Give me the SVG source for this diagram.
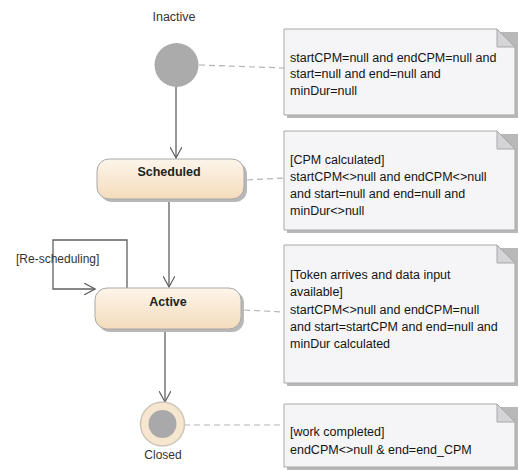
<svg xmlns="http://www.w3.org/2000/svg" width="519" height="470" viewBox="0 0 519 470">
<defs>
<linearGradient id="stateGrad" x1="0" y1="0" x2="0" y2="1">
<stop offset="0" stop-color="#fdf5ea"/>
<stop offset="1" stop-color="#f4dcbc"/>
</linearGradient>
<marker id="arrow" viewBox="0 0 12 12" refX="11" refY="6" markerWidth="12" markerHeight="12" markerUnits="userSpaceOnUse" orient="auto">
<path d="M0,0 L11,6 L0,12" fill="none" stroke="#606060" stroke-width="1.2"/>
</marker>
</defs>
<style>
text{font-family:"Liberation Sans",Arial,sans-serif;}
.lbl{font-size:12px;fill:#333;}
.state{fill:url(#stateGrad);stroke:#a8a8a8;stroke-width:1;}
.shadow{fill:#b8b8b8;}
.sname{font-size:12.5px;font-weight:bold;fill:#222;text-anchor:middle;}
.note{fill:#f5f5f7;stroke:#a8a8a8;stroke-width:1;}
.fold{fill:#d4d4d6;stroke:#a8a8a8;stroke-width:1;}
.ntext{font-size:12.5px;fill:#141414;}
.edge{fill:none;stroke:#606060;stroke-width:1.3;}
.dash{fill:none;stroke:#b4b4b4;stroke-width:1.2;stroke-dasharray:6,4;}
</style>

<g id="connectors">
<line class="dash" x1="199" y1="65" x2="284" y2="68"/>
<line class="dash" x1="247" y1="180" x2="284" y2="178"/>
<line class="dash" x1="244" y1="310" x2="284" y2="312"/>
<line class="dash" x1="184" y1="425" x2="284" y2="425"/>
<line class="edge" x1="176" y1="87" x2="176" y2="158" marker-end="url(#arrow)"/>
<line class="edge" x1="169" y1="200" x2="169" y2="287" marker-end="url(#arrow)"/>
<polyline class="edge" points="127,288 127,240 53,240 53,289 95,289" marker-end="url(#arrow)"/>
<line class="edge" x1="165" y1="331" x2="165" y2="402" marker-end="url(#arrow)"/>
<text class="lbl" x="16" y="263">[Re-scheduling]</text>
</g>

<g id="inactive">
<circle cx="176.5" cy="65" r="22" fill="#ababab"/>
<text class="lbl" x="174" y="21" text-anchor="middle" fill="#444" style="font-size:12.5px">Inactive</text>
</g>

<g id="scheduled">
<rect class="shadow" x="100" y="162" width="147" height="40" rx="12"/>
<rect class="state" x="97" y="159" width="147" height="40" rx="12"/>
<text class="sname" x="169" y="176">Scheduled</text>
</g>

<g id="active">
<rect class="shadow" x="98" y="291" width="146" height="41" rx="12"/>
<rect class="state" x="95" y="288" width="146" height="41" rx="12"/>
<text class="sname" x="168" y="306">Active</text>
</g>

<g id="closed">
<circle cx="162.5" cy="424" r="22" fill="#f6e6d0" stroke="#cfc6b8" stroke-width="1.5"/>
<circle cx="162.5" cy="424" r="14" fill="#a9a9ab"/>
<text class="lbl" x="163" y="459" text-anchor="middle" fill="#444">Closed</text>
</g>

<g id="note1">
<path class="shadow" d="M287,32 H518 V118 H287 Z"/>
<path class="note" d="M284,29 H497 L515,47 V115 H284 Z"/>
<path class="fold" d="M497,29 L515,47 H497 Z"/>
<text class="ntext" x="290" y="62">startCPM=null and endCPM=null and</text>
<text class="ntext" x="290" y="78">start=null and end=null and</text>
<text class="ntext" x="290" y="95">minDur=null</text>
</g>

<g id="note2">
<path class="shadow" d="M287,134 H518 V233 H287 Z"/>
<path class="note" d="M284,131 H497 L515,149 V230 H284 Z"/>
<path class="fold" d="M497,131 L515,149 H497 Z"/>
<text class="ntext" x="290" y="164">[CPM calculated]</text>
<text class="ntext" x="290" y="181">startCPM&lt;&gt;null and endCPM&lt;&gt;null</text>
<text class="ntext" x="290" y="198">and start=null and end=null and</text>
<text class="ntext" x="290" y="215">minDur&lt;&gt;null</text>
</g>

<g id="note3">
<path class="shadow" d="M287,248 H518 V386 H287 Z"/>
<path class="note" d="M284,245 H497 L515,263 V383 H284 Z"/>
<path class="fold" d="M497,245 L515,263 H497 Z"/>
<text class="ntext" x="290" y="279">[Token arrives and data input</text>
<text class="ntext" x="290" y="296">available]</text>
<text class="ntext" x="290" y="314">startCPM&lt;&gt;null and endCPM=null</text>
<text class="ntext" x="290" y="331">and start=startCPM and end=null and</text>
<text class="ntext" x="290" y="348">minDur calculated</text>
</g>

<g id="note4">
<path class="shadow" d="M287,407 H518 V470 H287 Z"/>
<path class="note" d="M284,404 H497 L515,422 V467 H284 Z"/>
<path class="fold" d="M497,404 L515,422 H497 Z"/>
<text class="ntext" x="290" y="436">[work completed]</text>
<text class="ntext" x="290" y="454">endCPM&lt;&gt;null &amp; end=end_CPM</text>
</g>
</svg>
